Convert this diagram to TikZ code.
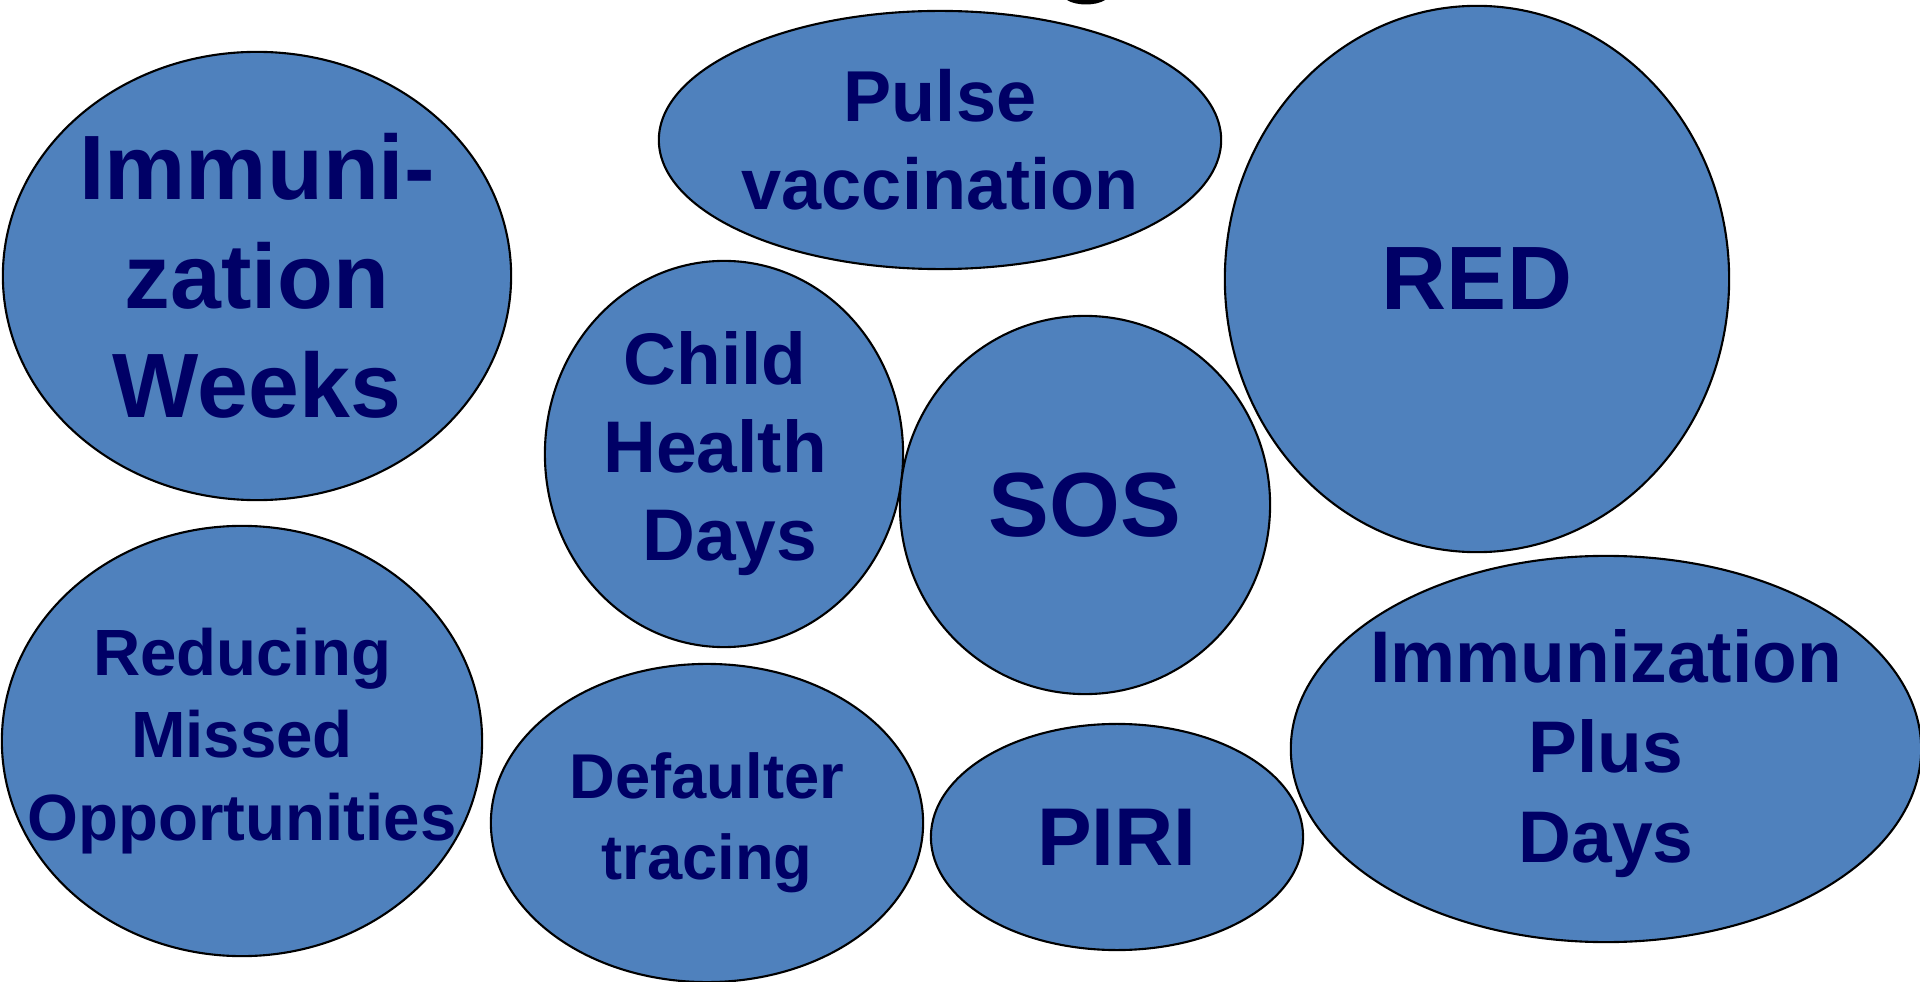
\documentclass[tikz,border=0pt]{standalone}
\usepackage{fontspec}
\setmainfont{Liberation Sans}
\usetikzlibrary{shapes.geometric}
\definecolor{bubblefill}{HTML}{4F81BD}
\definecolor{bubbletext}{HTML}{000066}

\begin{document}
\begin{tikzpicture}[x=0.01cm, y=-0.01cm,
    bubble/.style={ellipse, draw=black, line width=0.6pt, fill=bubblefill, inner sep=0pt},
    caption/.style 2 args={text=bubbletext, align=center, inner sep=0pt,
      font=\fontsize{#1}{#2}\selectfont\bfseries}]
  \useasboundingbox (0,0) rectangle (1920,982);

  % Tail of the heading above, cut off at the top edge
  \fill[black] (1067,0) .. controls (1076,6) and (1096,6) .. (1105,0) -- cycle;

  % Left column
  \node[bubble, minimum width=5.08cm, minimum height=4.48cm] (weeks) at (257,276) {};
  \node[caption={26}{31}] (weekstext) at (weeks) {Immuni-\\zation\\Weeks};
  \node[bubble, minimum width=4.80cm, minimum height=4.30cm] (missed) at (242,741) {};
  \node[caption={18.6}{23.5}] (missedtext) at (missed) {Reducing\\Missed\\Opportunities};

  % Middle
  \node[bubble, minimum width=5.62cm, minimum height=2.58cm] (pulse) at (940,140) {};
  \node[caption={20.5}{25}] (pulsetext) at (pulse) {Pulse\\vaccination};
  \node[bubble, minimum width=3.58cm, minimum height=3.86cm] (child) at (724,454) {};
  \node[caption={20.8}{25}, xshift=-0.09cm] (childtext) at (child) {Child\\Health\\\hspace*{0.4em}Days};
  \node[bubble, minimum width=3.70cm, minimum height=3.78cm] (sos) at (1085,505) {};
  \node[caption={25.9}{30}] (sostext) at (sos) {SOS};
  \node[bubble, minimum width=4.32cm, minimum height=3.18cm] (defaulter) at (707,823) {};
  \node[caption={18}{23}] (defaultertext) at (defaulter) {Defaulter\\tracing};
  \node[bubble, minimum width=3.72cm, minimum height=2.26cm] (piri) at (1117,837) {};
  \node[caption={23.3}{28}] (piritext) at (piri) {PIRI};

  % Right column
  \node[bubble, minimum width=5.04cm, minimum height=5.46cm] (red) at (1477,279) {};
  \node[caption={25.6}{30}] (redtext) at (red) {RED};
  \node[bubble, minimum width=6.30cm, minimum height=3.86cm] (plus) at (1606,749) {};
  \node[caption={20.8}{25.6}, yshift=-0.05cm] (plustext) at (plus) {Immunization\\Plus\\Days};
\end{tikzpicture}
\end{document}
